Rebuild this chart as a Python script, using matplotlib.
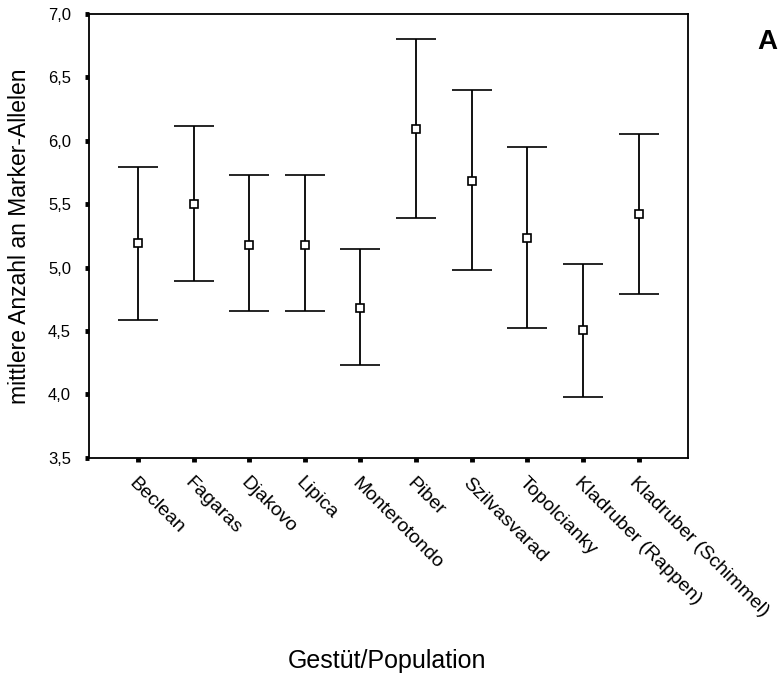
import numpy as np
import matplotlib
matplotlib.use('Agg')
import matplotlib.pyplot as plt

plt.rcParams['font.family'] = ['Liberation Sans', 'DejaVu Sans']

# Gestüte / Populationen
populations = ['Beclean', 'Fagaras', 'Djakovo', 'Lipica', 'Monterotondo', 'Piber',
               'Szilvasvarad', 'Topolcianky', 'Kladruber (Rappen)', 'Kladruber (Schimmel)']
# Mittelwert und Grenzen des Fehlerbalkens
means = [5.19, 5.50, 5.18, 5.18, 4.68, 6.09, 5.68, 5.23, 4.51, 5.42]
lower = [4.59, 4.89, 4.66, 4.66, 4.23, 5.39, 4.98, 4.52, 3.98, 4.79]
upper = [5.79, 6.12, 5.73, 5.73, 5.15, 6.80, 6.40, 5.95, 5.03, 6.05]
yticks = [3.5, 4.0, 4.5, 5.0, 5.5, 6.0, 6.5, 7.0]

x = np.arange(1, len(populations) + 1)
means = np.array(means)
yerr = [means - np.array(lower), np.array(upper) - means]

fig = plt.figure(figsize=(7.82, 6.85), dpi=100)
ax = fig.add_axes([0.1138, 0.3318, 0.766, 0.6478])

ax.errorbar(x, means, yerr=yerr, fmt='s', color='black', mfc='white', mec='black',
            ms=5.5, mew=1.2, elinewidth=1.3, capsize=14.5, capthick=1.3)

ax.set_xlim(0.12, 10.89)
ax.set_ylim(3.5, 7.0)
ax.set_yticks(yticks)
ax.set_yticklabels([f'{v:.1f}'.replace('.', ',') for v in yticks], fontsize=12)
ax.set_xticks(x)
ax.set_xticklabels(populations, rotation=-45, ha='left', va='top',
                   rotation_mode='anchor', fontsize=14)

ax.tick_params(axis='y', direction='out', length=3, width=3.5, pad=10)
ax.tick_params(axis='x', direction='out', length=3, width=3.5, pad=9)
for s in ax.spines.values():
    s.set_linewidth(1.3)

ax.set_ylabel('mittlere Anzahl an Marker-Allelen', fontsize=16.5)
ax.yaxis.set_label_coords(-0.097, 0.5)
fig.text(0.4955, 0.025, 'Gestüt/Population', ha='center', va='baseline', fontsize=18)
fig.text(0.968, 0.928, 'A', ha='left', va='baseline', fontsize=20, fontweight='bold')

fig.savefig('out.png', dpi=100)
